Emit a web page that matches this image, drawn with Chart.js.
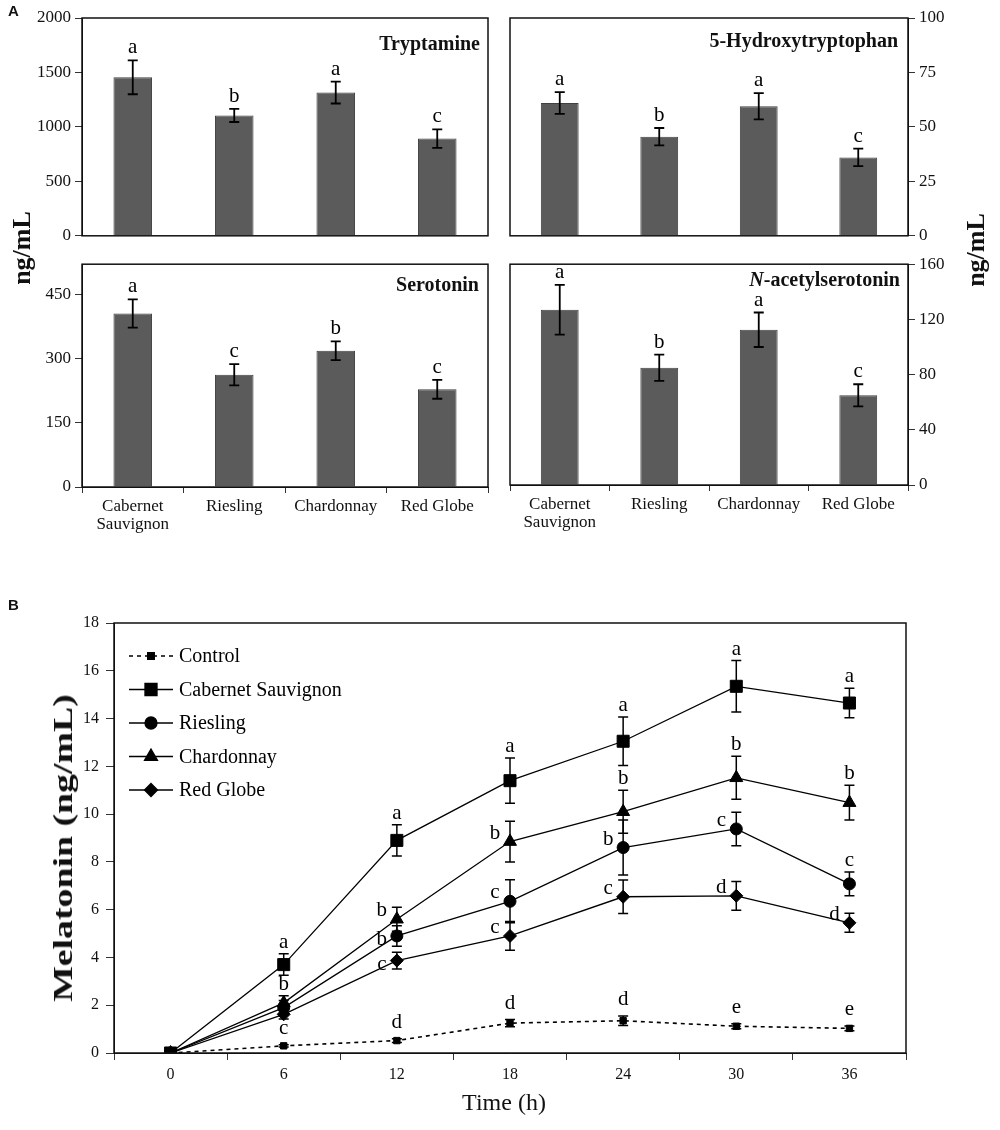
<!DOCTYPE html>
<html lang="en">
<head>
  <meta charset="UTF-8" />
  <title>Indoleamines and melatonin in grape cultivars</title>
  <script src="https://cdn.jsdelivr.net/npm/chart.js"></script>
  <style>
    body { margin: 0; background: #fff; }
    #fig { position: relative; width: 1000px; height: 1130px; font-family: 'Liberation Serif', serif; color: #111; }
    #fig canvas { position: absolute; }
    .lbl { position: absolute; white-space: nowrap; }
    .panel { font-family: 'Liberation Sans', Arial, sans-serif; font-weight: bold; font-size: 15px; }
    .ttl { font-weight: bold; font-size: 20px; line-height: 24px; }
    .rot { transform-origin: center center; }
  </style>
</head>
<body>
<div id="fig">
  <canvas id="c1" width="500" height="250" style="left:0;top:0"></canvas>
  <canvas id="c2" width="500" height="250" style="left:500px;top:0"></canvas>
  <canvas id="c3" width="500" height="290" style="left:0;top:250px"></canvas>
  <canvas id="c4" width="500" height="290" style="left:500px;top:250px"></canvas>
  <canvas id="c5" width="1000" height="540" style="left:0;top:590px"></canvas>

  <div class="lbl panel" style="left:8px;top:2px">A</div>
  <div class="lbl panel" style="left:8px;top:596px">B</div>

  <div class="lbl ttl" style="right:520px;top:31px">Tryptamine</div>
  <div class="lbl ttl" style="right:102px;top:28px">5-Hydroxytryptophan</div>
  <div class="lbl ttl" style="right:521px;top:272px">Serotonin</div>
  <div class="lbl ttl" style="right:100px;top:267px"><i>N</i>-acetylserotonin</div>

  <div class="lbl rot" style="left:-18px;top:233px;width:80px;text-align:center;font-weight:bold;font-size:26px;line-height:30px;transform:rotate(-90deg)">ng/mL</div>
  <div class="lbl rot" style="left:936px;top:235px;width:80px;text-align:center;font-weight:bold;font-size:26px;line-height:30px;transform:rotate(-90deg)">ng/mL</div>

  <div class="lbl rot" style="left:-87px;top:831px;width:300px;text-align:center;font-weight:bold;font-size:28px;line-height:34px;transform:rotate(-90deg) scaleX(1.35)">Melatonin (ng/mL)</div>
  <div class="lbl" style="left:404px;top:1088px;width:200px;text-align:center;font-size:24px;line-height:28px">Time (h)</div>
</div>

<script>
  // ---- data ----
  const grapes = [['Cabernet', 'Sauvignon'], 'Riesling', 'Chardonnay', 'Red Globe'];

  const tryptamine = [1455, 1105, 1315, 893];
  const tryptamineErr = [155, 60, 100, 85];
  const tryptamineSig = ['a', 'b', 'a', 'c'];

  const hydroxyTrp = [61, 45.5, 59.5, 36];
  const hydroxyTrpErr = [5, 4, 6, 4];
  const hydroxyTrpSig = ['a', 'b', 'a', 'c'];

  const serotonin = [405, 262, 318, 228];
  const serotoninErr = [33, 25, 22, 22];
  const serotoninSig = ['a', 'c', 'b', 'c'];

  const acetylSer = [127, 85, 112.5, 65];
  const acetylSerErr = [18, 9.5, 12.5, 8];
  const acetylSerSig = ['a', 'b', 'a', 'c'];

  const hours = ['0', '6', '12', '18', '24', '30', '36'];
  const seriesNames = ['Control', 'Cabernet Sauvignon', 'Riesling', 'Chardonnay', 'Red Globe'];

  const controlMel = [0, 0.3, 0.52, 1.25, 1.35, 1.12, 1.03];
  const controlErr = [0, 0.05, 0.08, 0.15, 0.2, 0.1, 0.1];
  const controlSig = ['', 'c', 'd', 'd', 'd', 'e', 'e'];

  const cabernetMel = [0, 3.7, 8.9, 11.4, 13.05, 15.35, 14.65];
  const cabernetErr = [0, 0.45, 0.65, 0.95, 1.02, 1.08, 0.62];
  const cabernetSig = ['', 'a', 'a', 'a', 'a', 'a', 'a'];

  const rieslingMel = [0, 1.9, 4.9, 6.35, 8.6, 9.38, 7.08];
  const rieslingErr = [0, 0.3, 0.43, 0.9, 1.15, 0.7, 0.5];
  const rieslingSig = ['', '', 'b', 'c', 'b', 'c', 'c'];

  const chardMel = [0, 2.1, 5.6, 8.85, 10.1, 11.52, 10.48];
  const chardErr = [0, 0.3, 0.5, 0.85, 0.9, 0.9, 0.73];
  const chardSig = ['', 'b', 'b', 'b', 'b', 'b', 'b'];

  const redGlobeMel = [0, 1.62, 3.87, 4.9, 6.54, 6.58, 5.45];
  const redGlobeErr = [0, 0.2, 0.35, 0.6, 0.7, 0.6, 0.4];
  const redGlobeSig = ['', '', 'c', 'c', 'c', 'd', 'd'];

  // where each letter sits: u = above the error bar, l = left of point, k = left and a bit up
  const cabernetPos = ['u', 'u', 'u', 'u', 'u', 'u', 'u'];
  const controlPos = ['u', 'u', 'u', 'u', 'u', 'u', 'u'];
  const rieslingPos = ['u', 'u', 'l', 'k', 'k', 'k', 'u'];
  const chardPos = ['u', 'u', 'k', 'k', 'u', 'u', 'u'];
  const redGlobePos = ['u', 'u', 'l', 'k', 'k', 'k', 'k'];

  Chart.defaults.font.family = "'Liberation Serif', 'Times New Roman', serif";
  Chart.defaults.color = '#111';

  // error bars + significance letters
  const errLetters = {
    id: 'errLetters',
    afterDatasetsDraw(chart, args, opts) {
      const ctx = chart.ctx, ys = chart.scales.y;
      ctx.save();
      chart.data.datasets.forEach((ds, i) => {
        const meta = chart.getDatasetMeta(i);
        meta.data.forEach((el, j) => {
          const v = ds.data[j];
          const e = ds.errors ? ds.errors[j] : 0;
          const x = el.x;
          const yt = ys.getPixelForValue(v + e), yb = ys.getPixelForValue(v - e);
          if (e > 0) {
            ctx.strokeStyle = '#000';
            ctx.lineWidth = opts.lw;
            ctx.beginPath();
            ctx.moveTo(x, yt); ctx.lineTo(x, yb);
            ctx.moveTo(x - opts.cap, yt); ctx.lineTo(x + opts.cap, yt);
            ctx.moveTo(x - opts.cap, yb); ctx.lineTo(x + opts.cap, yb);
            ctx.stroke();
          }
          const L = ds.letters ? ds.letters[j] : '';
          if (!L) return;
          ctx.fillStyle = '#000';
          ctx.font = opts.font;
          ctx.textAlign = 'center';
          ctx.textBaseline = 'alphabetic';
          const pos = ds.letterPos ? ds.letterPos[j] : 'u';
          const py = ys.getPixelForValue(v);
          if (pos === 'l') ctx.fillText(L, x - 15, py + 9);
          else if (pos === 'k') ctx.fillText(L, x - 15, py - 3);
          else ctx.fillText(L, x, yt - (ds.letterGap || opts.gap));
        });
      });
      ctx.restore();
    }
  };

  const boxPlugin = {
    id: 'box',
    afterDraw(chart) {
      const { ctx, chartArea: a } = chart;
      ctx.save();
      ctx.strokeStyle = '#111';
      ctx.lineWidth = 1.5;
      ctx.strokeRect(a.left, a.top, a.right - a.left, a.bottom - a.top);
      ctx.restore();
    }
  };

  const plain = v => String(v);

  function barChart(id, values, errors, letters, cfg) {
    return new Chart(document.getElementById(id), {
      type: 'bar',
      data: {
        labels: grapes,
        datasets: [{
          data: values, errors: errors, letters: letters,
          backgroundColor: '#5b5b5b', borderColor: '#404040', borderWidth: 1,
          barPercentage: 0.38, categoryPercentage: 1
        }]
      },
      options: {
        responsive: false, animation: false,
        layout: { padding: cfg.pad },
        plugins: {
          legend: { display: false }, tooltip: { enabled: false },
          errLetters: { cap: 5, lw: 1.8, gap: 7, font: "21px 'Liberation Serif'" }
        },
        scales: {
          x: {
            display: cfg.showX,
            grid: { drawOnChartArea: false, tickLength: 6, color: '#333', offset: true },
            border: { color: '#111' },
            ticks: { font: { size: 17, lineHeight: 1.08 }, padding: 4, maxRotation: 0, autoSkip: false },
            afterFit: s => { s.height = cfg.xh || 0; }
          },
          y: {
            position: cfg.side, min: 0, max: cfg.max,
            grid: { drawOnChartArea: false, tickLength: 7, color: '#333' },
            border: { color: '#111' },
            ticks: { stepSize: cfg.step, includeBounds: false, font: { size: 17 }, padding: 4, callback: plain },
            afterBuildTicks: s => { s.ticks = s.ticks.filter(t => t.value % cfg.step === 0); },
            afterFit: s => { s.width = cfg.yw; }
          }
        }
      },
      plugins: [errLetters, boxPlugin]
    });
  }

  barChart('c1', tryptamine, tryptamineErr, tryptamineSig,
    { pad: { top: 18, right: 12, bottom: 8, left: 0 }, showX: false, side: 'left', max: 2000, step: 500, yw: 82 });
  barChart('c2', hydroxyTrp, hydroxyTrpErr, hydroxyTrpSig,
    { pad: { top: 18, right: 0, bottom: 8, left: 10 }, showX: false, side: 'right', max: 100, step: 25, yw: 92 });
  barChart('c3', serotonin, serotoninErr, serotoninSig,
    { pad: { top: 13, right: 12, bottom: 0, left: 0 }, showX: true, xh: 53, side: 'left', max: 520, step: 150, yw: 82 });
  barChart('c4', acetylSer, acetylSerErr, acetylSerSig,
    { pad: { top: 12, right: 0, bottom: 0, left: 10 }, showX: true, xh: 55, side: 'right', max: 160, step: 40, yw: 92 });

  // legend drawn inside the plot area of panel B
  const lineLegend = {
    id: 'lineLegend',
    afterDraw(chart) {
      const { ctx, chartArea: a } = chart;
      ctx.save();
      chart.data.datasets.forEach((ds, i) => {
        const y = a.top + 33 + i * 33.5;
        const x0 = a.left + 15, x1 = a.left + 59;
        ctx.strokeStyle = '#000';
        ctx.lineWidth = ds.borderWidth;
        ctx.setLineDash(ds.borderDash || []);
        ctx.beginPath(); ctx.moveTo(x0, y); ctx.lineTo(x1, y); ctx.stroke();
        ctx.setLineDash([]);
        ctx.fillStyle = '#000';
        if (Chart.helpers && Chart.helpers.drawPoint) {
          Chart.helpers.drawPoint(ctx, { pointStyle: ds.pointStyle, radius: ds.pointRadius, rotation: 0, borderWidth: 1 }, (x0 + x1) / 2, y);
        } else {
          ctx.fillRect((x0 + x1) / 2 - 5, y - 5, 10, 10);
        }
        ctx.font = "20px 'Liberation Serif'";
        ctx.textAlign = 'left';
        ctx.textBaseline = 'middle';
        ctx.fillText(ds.label, a.left + 65, y + 1);
      });
      ctx.restore();
    }
  };

  function melSeries(name, values, errors, letters, pos, style, radius, extra) {
    return Object.assign({
      label: name, data: values, errors: errors, letters: letters, letterPos: pos,
      borderColor: '#000', borderWidth: 1.3, tension: 0,
      pointStyle: style, pointRadius: radius, pointBackgroundColor: '#000', pointBorderColor: '#000', pointBorderWidth: 1
    }, extra || {});
  }

  new Chart(document.getElementById('c5'), {
    type: 'line',
    data: {
      labels: hours,
      datasets: [
        melSeries(seriesNames[0], controlMel, controlErr, controlSig, controlPos, 'rect', 4.5, { borderDash: [4, 4], borderWidth: 1.6, letterGap: 11 }),
        melSeries(seriesNames[1], cabernetMel, cabernetErr, cabernetSig, cabernetPos, 'rect', 8.5),
        melSeries(seriesNames[2], rieslingMel, rieslingErr, rieslingSig, rieslingPos, 'circle', 6),
        melSeries(seriesNames[3], chardMel, chardErr, chardSig, chardPos, 'triangle', 7.5),
        melSeries(seriesNames[4], redGlobeMel, redGlobeErr, redGlobeSig, redGlobePos, 'rectRot', 6.5)
      ]
    },
    options: {
      responsive: false, animation: false,
      layout: { padding: { top: 33, right: 94, bottom: 0, left: 0 } },
      plugins: {
        legend: { display: false }, tooltip: { enabled: false },
        errLetters: { cap: 5, lw: 1.5, gap: 6, font: "21px 'Liberation Serif'" }
      },
      scales: {
        x: {
          offset: true,
          grid: { drawOnChartArea: false, tickLength: 7, color: '#333', offset: true },
          border: { color: '#111' },
          ticks: { font: { size: 16 }, padding: 5, maxRotation: 0, autoSkip: false },
          afterFit: s => { s.height = 77; }
        },
        y: {
          min: 0, max: 18,
          grid: { drawOnChartArea: false, tickLength: 8, color: '#333' },
          border: { color: '#111' },
          ticks: { stepSize: 2, font: { size: 16 }, padding: 7, callback: plain },
          afterFit: s => { s.width = 114; }
        }
      }
    },
    plugins: [errLetters, boxPlugin, lineLegend]
  });
</script>
</body>
</html>
